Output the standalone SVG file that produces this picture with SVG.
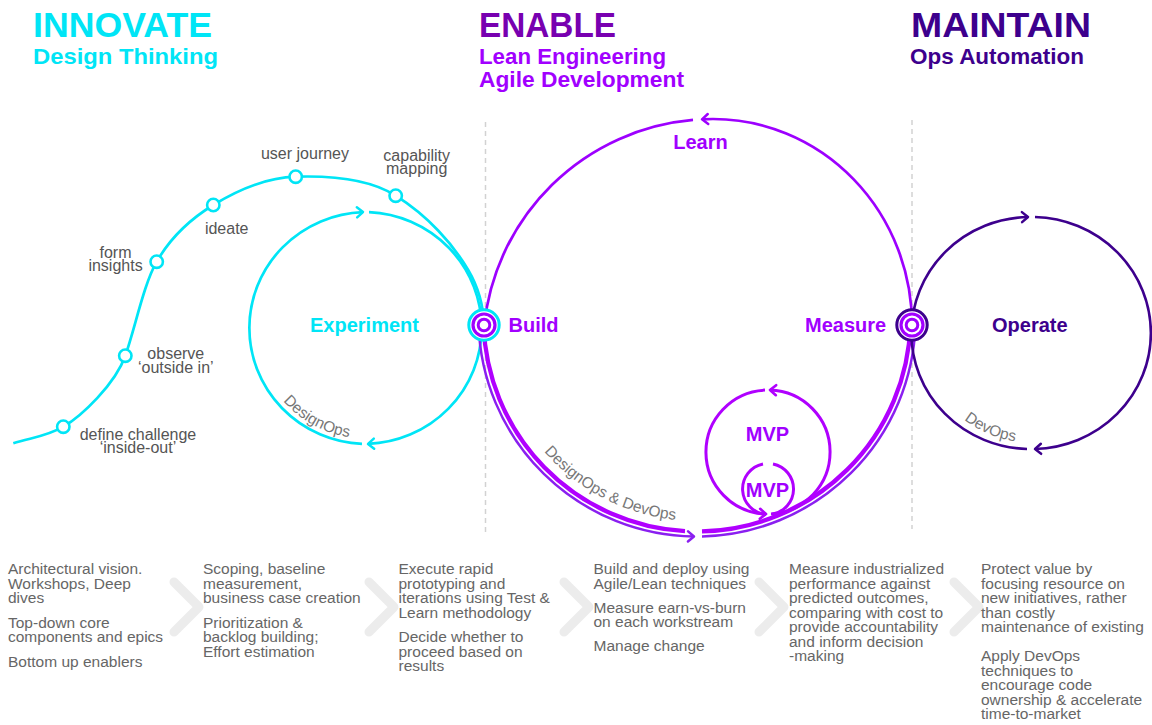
<svg xmlns="http://www.w3.org/2000/svg" width="1152" height="725" viewBox="0 0 1152 725">
<defs>
<style>
text{font-family:"Liberation Sans",Arial,Helvetica,sans-serif}
.hdr{font-size:34.5px;font-weight:700}
.sub{font-size:22px;font-weight:700}
.nl{font-size:20px;font-weight:700}
.lbl{font-size:16px;fill:#555;text-anchor:middle}
.rot{font-size:15.5px;fill:#777}
.body{font-size:15.5px;fill:#666}
.cy{fill:#00e5f6}
.pu{fill:#a100ff}
.dk{fill:#3d008d}
.en{fill:#7800b0}
.ln{fill:none}
.s-cy{stroke:#00e5f6;stroke-width:2.7}
.s-top{stroke:#9d00ff;stroke-width:2.7}
.s-in{stroke:#b000ff;stroke-width:4.3}
.s-out{stroke:#8a1ff0;stroke-width:2.5}
.s-mvp{stroke:#b000ff;stroke-width:3}
.s-dk{stroke:#3d008d;stroke-width:2.6}
.sep{fill:none;stroke:#d2d2d2;stroke-width:1.5;stroke-dasharray:5 4}
.chev{fill:none;stroke:#ececec;stroke-width:9;stroke-linecap:round;stroke-linejoin:round}
.stage{fill:#fff;stroke:#00e5f6;stroke-width:2.6}
</style>
<marker id="ah-cy" viewBox="-10 -10 20 20" markerWidth="20" markerHeight="20" markerUnits="userSpaceOnUse" orient="auto" refX="0" refY="0"><path d="M-6,-5 L0,0 L-6,5" fill="none" stroke="#00e5f6" stroke-width="2.5" stroke-linecap="round" stroke-linejoin="round"/></marker>
<marker id="ah-top" viewBox="-10 -10 20 20" markerWidth="20" markerHeight="20" markerUnits="userSpaceOnUse" orient="auto" refX="0" refY="0"><path d="M-6,-5 L0,0 L-6,5" fill="none" stroke="#9d00ff" stroke-width="2.5" stroke-linecap="round" stroke-linejoin="round"/></marker>
<marker id="ah-out" viewBox="-10 -10 20 20" markerWidth="20" markerHeight="20" markerUnits="userSpaceOnUse" orient="auto" refX="0" refY="0"><path d="M-6,-5 L0,0 L-6,5" fill="none" stroke="#8a1ff0" stroke-width="2.5" stroke-linecap="round" stroke-linejoin="round"/></marker>
<marker id="ah-mvp" viewBox="-10 -10 20 20" markerWidth="20" markerHeight="20" markerUnits="userSpaceOnUse" orient="auto" refX="0" refY="0"><path d="M-6,-5 L0,0 L-6,5" fill="none" stroke="#b000ff" stroke-width="2.7" stroke-linecap="round" stroke-linejoin="round"/></marker>
<marker id="ah-dk" viewBox="-10 -10 20 20" markerWidth="20" markerHeight="20" markerUnits="userSpaceOnUse" orient="auto" refX="0" refY="0"><path d="M-6,-5 L0,0 L-6,5" fill="none" stroke="#3d008d" stroke-width="2.5" stroke-linecap="round" stroke-linejoin="round"/></marker>
<path id="tp-design" d="M257.6,349.6 A110.5,110.5 0 0 0 406.1,430.9"/>
<path id="tp-dd" d="M498.8,361.9 A203,203 0 0 0 774.7,505.6"/>
<path id="tp-devops" d="M933.4,382.7 A109.5,109.5 0 0 0 1063,437.7"/>
</defs>

<rect width="1152" height="725" fill="#fff"/>

<g id="headers">
<text class="hdr cy" x="33" y="37" textLength="179" lengthAdjust="spacingAndGlyphs">INNOVATE</text>
<text class="sub cy" x="33" y="64" textLength="185" lengthAdjust="spacingAndGlyphs">Design Thinking</text>
<text class="hdr en" x="479" y="37" textLength="137" lengthAdjust="spacingAndGlyphs">ENABLE</text>
<text class="sub pu" x="479" y="63.5" textLength="187" lengthAdjust="spacingAndGlyphs">Lean Engineering</text>
<text class="sub pu" x="479" y="87" textLength="205" lengthAdjust="spacingAndGlyphs">Agile Development</text>
<text class="hdr dk" x="911" y="37" textLength="180" lengthAdjust="spacingAndGlyphs">MAINTAIN</text>
<text class="sub dk" x="910" y="63.5" textLength="174" lengthAdjust="spacingAndGlyphs">Ops Automation</text>
</g>

<g id="separators">
<line class="sep" x1="485.5" y1="122" x2="485.5" y2="533"/>
<line class="sep" x1="912" y1="120" x2="912" y2="529"/>
</g>

<g id="connectors">
<path id="s-curve" class="ln s-cy" d="M13.3,443.3 C30,437.6 45,437.4 63.3,426.7 C81.6,416 115.3,384 125.3,355.7 C135.3,327.4 143.4,285 156.7,261.7 C170,238.4 190.1,219.2 213.3,205 C236.5,190.8 264,177.7 295.7,176.7 C327.4,175.7 367.4,177.4 395.7,195.7 C428,216 453,244.1 468.2,270 A118,116 0 0 1 483.96,325"/>
<path class="ln s-cy" d="M362,443.9 A118,116 0 0 1 363,212.1" marker-end="url(#ah-cy)"/>
<path class="ln s-cy" d="M369,212.1 A118,116 0 0 1 368,443.9" marker-end="url(#ah-cy)"/>
<path class="ln s-top" d="M912,325 A199,206 0 0 0 713,119 A230,230 0 0 0 702,119.3" marker-end="url(#ah-top)"/>
<path class="ln s-top" d="M693,119.9 A230,230 0 0 0 484.3,325"/>
<path class="ln s-out" d="M478.6,325 A218.5,218.5 0 0 0 694,536.5" marker-end="url(#ah-out)"/>
<path class="ln s-out" d="M702,536.4 A218.5,218.5 0 0 0 915.4,325"/>
<path class="ln s-in" d="M483.6,325 A213.5,213.5 0 0 0 685,531.2"/>
<path class="ln s-in" d="M702,531.4 A213.5,213.5 0 0 0 910.4,325"/>
<path class="ln s-mvp" d="M771,513.9 A62,62 0 0 0 770,390" marker-end="url(#ah-mvp)"/>
<path class="ln s-mvp" d="M765,390.1 A62,62 0 0 0 766,514" marker-end="url(#ah-mvp)"/>
<path class="ln s-mvp" d="M763,464 A25.5,25.5 0 0 0 766,514.4"/>
<path class="ln s-mvp" d="M772,514.2 A25.5,25.5 0 0 0 773,464"/>
<path class="ln s-dk" d="M1027,448.96 A119,116 0 0 1 1028,217.03" marker-end="url(#ah-dk)"/>
<path class="ln s-dk" d="M1035,217.04 A119,116 0 0 1 1035,448.96" marker-end="url(#ah-dk)"/>
<text class="rot"><textPath href="#tp-design" startOffset="50%" text-anchor="middle">DesignOps</textPath></text>
<text class="rot"><textPath href="#tp-dd" startOffset="50%" text-anchor="middle">DesignOps &amp; DevOps</textPath></text>
<text class="rot"><textPath href="#tp-devops" startOffset="50%" text-anchor="middle">DevOps</textPath></text>
</g>

<g id="node-define-challenge">
<circle class="stage" cx="63.3" cy="426.7" r="6.2"/>
<text class="lbl" x="138" y="440">define challenge</text>
<text class="lbl" x="138" y="453">‘inside-out’</text>
</g>
<g id="node-observe">
<circle class="stage" cx="125.3" cy="355.7" r="6.2"/>
<text class="lbl" x="175.8" y="359.3">observe</text>
<text class="lbl" x="175.8" y="372.6">‘outside in’</text>
</g>
<g id="node-form-insights">
<circle class="stage" cx="156.7" cy="261.7" r="6.2"/>
<text class="lbl" x="115.5" y="258">form</text>
<text class="lbl" x="115.5" y="271">insights</text>
</g>
<g id="node-ideate">
<circle class="stage" cx="213.3" cy="205" r="6.2"/>
<text class="lbl" x="226.7" y="234">ideate</text>
</g>
<g id="node-user-journey">
<circle class="stage" cx="295.7" cy="176.7" r="6.2"/>
<text class="lbl" x="305" y="158.5">user journey</text>
</g>
<g id="node-capability-mapping">
<circle class="stage" cx="395.7" cy="195.7" r="6.2"/>
<text class="lbl" x="416.7" y="160.5">capability</text>
<text class="lbl" x="416.7" y="173.5">mapping</text>
</g>

<g id="node-experiment">
<text class="nl cy" x="310" y="332">Experiment</text>
</g>
<g id="node-learn">
<text class="nl pu" x="700.5" y="149" text-anchor="middle">Learn</text>
</g>
<g id="node-mvp">
<text class="nl pu" x="767.5" y="440.7" text-anchor="middle">MVP</text>
</g>
<g id="node-mvp-inner">
<text class="nl pu" x="767.5" y="496.5" text-anchor="middle">MVP</text>
</g>
<g id="node-operate">
<text class="nl dk" x="992" y="332">Operate</text>
</g>

<g id="node-build">
<circle cx="484" cy="325" r="15.2" fill="#fff" stroke="#00e5f6" stroke-width="3"/>
<circle cx="484" cy="325" r="11" fill="#fff" stroke="#a100ff" stroke-width="3.2"/>
<circle cx="484" cy="325" r="5.8" fill="#fff" stroke="#a100ff" stroke-width="3"/>
<text class="nl pu" x="508.5" y="332">Build</text>
</g>
<g id="node-measure">
<circle cx="912" cy="325" r="15.2" fill="#fff" stroke="#3d008d" stroke-width="3"/>
<circle cx="912" cy="325" r="11" fill="#fff" stroke="#a100ff" stroke-width="3.2"/>
<circle cx="912" cy="325" r="5.8" fill="#fff" stroke="#a100ff" stroke-width="3"/>
<text class="nl pu" x="805" y="332">Measure</text>
</g>

<g id="chevrons">
<polyline class="chev" points="174,582 199,607 174,632"/>
<polyline class="chev" points="369,582 394,607 369,632"/>
<polyline class="chev" points="564,582 589,607 564,632"/>
<polyline class="chev" points="759,582 784,607 759,632"/>
<polyline class="chev" points="954,582 979,607 954,632"/>
</g>

<g id="descriptions">
<text class="body" y="574"><tspan x="8">Architectural vision.</tspan><tspan x="8" dy="14.5">Workshops, Deep</tspan><tspan x="8" dy="14.5">dives</tspan><tspan x="8" dy="24.5">Top-down core</tspan><tspan x="8" dy="14.5">components and epics</tspan><tspan x="8" dy="24.5">Bottom up enablers</tspan></text>
<text class="body" y="574"><tspan x="203">Scoping, baseline</tspan><tspan x="203" dy="14.5">measurement,</tspan><tspan x="203" dy="14.5">business case creation</tspan><tspan x="203" dy="24.5">Prioritization &amp;</tspan><tspan x="203" dy="14.5">backlog building;</tspan><tspan x="203" dy="14.5">Effort estimation</tspan></text>
<text class="body" y="574"><tspan x="398.5">Execute rapid</tspan><tspan x="398.5" dy="14.5">prototyping and</tspan><tspan x="398.5" dy="14.5">iterations using Test &amp;</tspan><tspan x="398.5" dy="14.5">Learn methodology</tspan><tspan x="398.5" dy="24.5">Decide whether to</tspan><tspan x="398.5" dy="14.5">proceed based on</tspan><tspan x="398.5" dy="14.5">results</tspan></text>
<text class="body" y="574"><tspan x="593.5">Build and deploy using</tspan><tspan x="593.5" dy="14.5">Agile/Lean techniques</tspan><tspan x="593.5" dy="24">Measure earn-vs-burn</tspan><tspan x="593.5" dy="14.5">on each workstream</tspan><tspan x="593.5" dy="24">Manage change</tspan></text>
<text class="body" y="574"><tspan x="789">Measure industrialized</tspan><tspan x="789" dy="14.5">performance against</tspan><tspan x="789" dy="14.5">predicted outcomes,</tspan><tspan x="789" dy="14.5">comparing with cost to</tspan><tspan x="789" dy="14.5">provide accountability</tspan><tspan x="789" dy="14.5">and inform decision</tspan><tspan x="789" dy="14.5">-making</tspan></text>
<text class="body" y="574"><tspan x="981">Protect value by</tspan><tspan x="981" dy="14.5">focusing resource on</tspan><tspan x="981" dy="14.5">new initiatives, rather</tspan><tspan x="981" dy="14.5">than costly</tspan><tspan x="981" dy="14.5">maintenance of existing</tspan><tspan x="981" dy="29">Apply DevOps</tspan><tspan x="981" dy="14.5">techniques to</tspan><tspan x="981" dy="14.5">encourage code</tspan><tspan x="981" dy="14.5">ownership &amp; accelerate</tspan><tspan x="981" dy="14.5">time-to-market</tspan></text>
</g>
</svg>
